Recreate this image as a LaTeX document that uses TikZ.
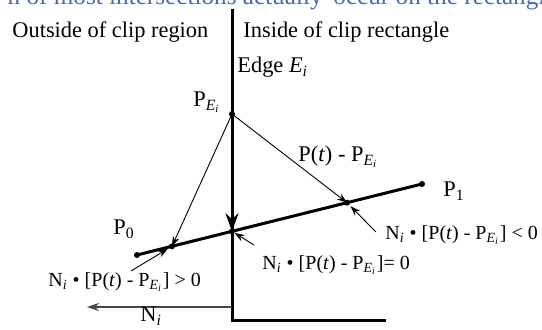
\documentclass[tikz,border=0pt]{standalone}
\usepackage{fontspec}
\setmainfont{Liberation Serif}
\usetikzlibrary{arrows.meta}
\definecolor{headblue}{RGB}{70,105,175}
\definecolor{ngray}{RGB}{70,70,70}
\newcommand\PEi{P\textsubscript{\textit{E\textsubscript{i}}}}
\newcommand\Ni{N\textsubscript{\textit{i}}}
\begin{document}
\begin{tikzpicture}[x=0.5pt,y=-0.5pt,
  thickline/.style={line width=1.5pt},
  segline/.style={line width=1.5pt},
  thinarrow/.style={line width=0.45pt,-{Stealth[length=5pt,width=3.5pt]}},
  dotnode/.style={circle,fill=black,inner sep=0pt,minimum size=3pt},
  lbl/.style={inner sep=0pt,anchor=base west,font=\fontsize{11.2}{13}\selectfont},
  flbl/.style={inner sep=0pt,anchor=base west,font=\fontsize{10}{12}\selectfont},
  head/.style={inner sep=0pt,text=headblue,font=\fontsize{12.6}{14}\selectfont}]
\useasboundingbox (0,0) rectangle (542,330);
\clip (0,0) rectangle (542,330);
% cut-off heading
\node[head,anchor=base east] (h1) at (323,4.5) {n of most intersections actually};
\node[head,anchor=base west] (h2) at (333,4.5) {occur on the rectangle};
% edge and corner
\coordinate (etop) at (232,9);
\coordinate (ebot) at (232,321);
\coordinate (bend) at (386,321);
\draw[thickline] (etop) -- (ebot) -- (bend);
% points
\node[dotnode] (pe) at (232,114) {};
\node[dotnode] (p0) at (137,255) {};
\node[dotnode] (p1) at (422,184) {};
\node[dotnode] (qa) at (172,246.3) {};
\node[dotnode] (qm) at (232,231.3) {};
\node[dotnode] (qb) at (347,202.7) {};
\draw[segline] (p0.center) -- (p1.center);
% arrows from P_E
\draw[thinarrow] (pe.center) -- (qa.center);
\draw[thinarrow] (pe.center) -- (qb.center);
% edge arrowhead
\coordinate (ea) at (232,195);
\draw[line width=1.5pt,-{Stealth[length=9pt,width=6.5pt]}] (ea) -- (qm.center);
% normal
\coordinate (ns) at (232,307);
\coordinate (ne) at (87,307);
\draw[ngray,line width=0.8pt,-{Stealth[length=6pt,width=4pt]}] (ns) -- (ne);
% pointer arrows
\coordinate (a1) at (131,271);
\coordinate (a2) at (254,245);
\coordinate (a3) at (376,232);
\draw[thinarrow,shorten >=2.5pt] (a1) -- (qa.center);
\draw[thinarrow,shorten >=1.5pt] (a2) -- (qm.center);
\draw[thinarrow,shorten >=2.5pt] (a3) -- (qb.center);
% labels
\node[lbl] (tout) at (12,38) {Outside of clip region};
\node[lbl] (tin) at (243,38) {Inside of clip rectangle};
\node[lbl] (tedge) at (237,73) {Edge \textit{E\textsubscript{i}}};
\node[lbl] (tpe) at (193,107) {\PEi};
\node[lbl] (tpt) at (298,162) {P(\textit{t}) - \PEi};
\node[lbl] (tp0) at (113,235) {P\textsubscript{0}};
\node[lbl] (tp1) at (443,197) {P\textsubscript{1}};
\node[flbl] (tgt) at (48,287) {\Ni\ \textbullet\ [P(\textit{t}) - \PEi] > 0};
\node[flbl] (teq) at (262,270) {\Ni\ \textbullet\ [P(\textit{t}) - \PEi]= 0};
\node[flbl] (tlt) at (385,240) {\Ni\ \textbullet\ [P(\textit{t}) - \PEi] < 0};
\node[lbl] (tni) at (140,322) {\Ni};
\end{tikzpicture}
\end{document}
